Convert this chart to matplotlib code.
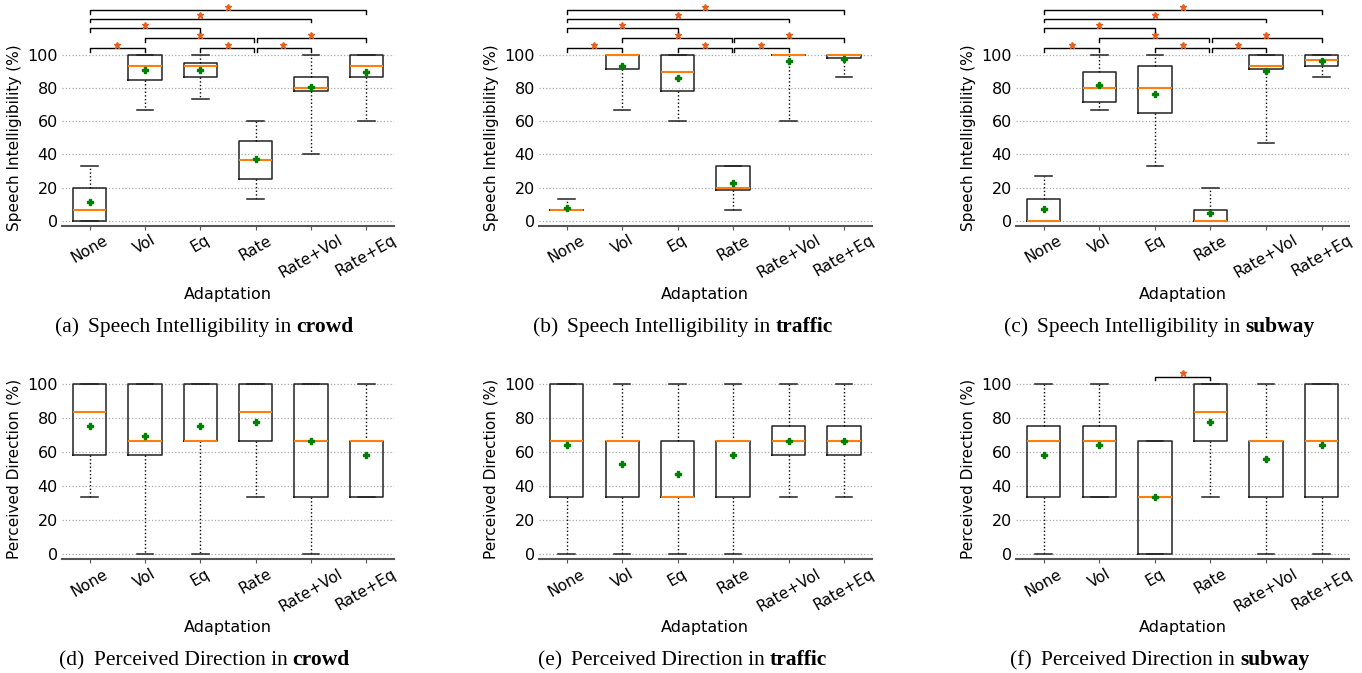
import matplotlib
matplotlib.use("Agg")
import matplotlib.pyplot as plt

# categories
adaptations = ['None', 'Vol', 'Eq', 'Rate', 'Rate+Vol', 'Rate+Eq']

# box stats per adaptation: whislo, q1, med, q3, whishi, mean  (values in %)
si_crowd = [[0, 0, 6.67, 20, 33.3, 11.1],
            [66.7, 85, 93.3, 100, 100, 91.1],
            [73.3, 86.7, 93.3, 95, 100, 91.1],
            [13.3, 25, 36.7, 48.3, 60, 37.4],
            [40, 78.3, 80, 86.7, 100, 80.6],
            [60, 86.7, 93.3, 100, 100, 90.0]]
si_traffic = [[6.67, 6.67, 6.67, 6.67, 13.3, 7.8],
              [66.7, 91.7, 100, 100, 100, 93.3],
              [60, 78.3, 90, 100, 100, 86.1],
              [6.67, 18.3, 20, 33.3, 33.3, 22.8],
              [60, 100, 100, 100, 100, 96.1],
              [86.7, 98.3, 100, 100, 100, 97.8]]
si_subway = [[0, 0, 0, 13.3, 26.7, 7.2],
             [66.7, 71.7, 80, 90, 100, 81.7],
             [33.3, 65, 80, 93.3, 100, 76.7],
             [0, 0, 0, 6.67, 20, 4.4],
             [46.7, 91.7, 93.3, 100, 100, 90.6],
             [86.7, 93.3, 96.7, 100, 100, 96.1]]
pd_crowd = [[33.3, 58.3, 83.3, 100, 100, 75],
            [0, 58.3, 66.7, 100, 100, 69.4],
            [0, 66.7, 66.7, 100, 100, 75],
            [33.3, 66.7, 83.3, 100, 100, 77.8],
            [0, 33.3, 66.7, 100, 100, 66.7],
            [33.3, 33.3, 66.7, 66.7, 100, 58.3]]
pd_traffic = [[0, 33.3, 66.7, 100, 100, 63.9],
              [0, 33.3, 66.7, 66.7, 100, 52.8],
              [0, 33.3, 33.3, 66.7, 100, 47.2],
              [0, 33.3, 66.7, 66.7, 100, 58.3],
              [33.3, 58.3, 66.7, 75, 100, 66.7],
              [33.3, 58.3, 66.7, 75, 100, 66.7]]
pd_subway = [[0, 33.3, 66.7, 75, 100, 58.3],
             [33.3, 33.3, 66.7, 75, 100, 63.9],
             [0, 0, 33.3, 66.7, 66.7, 33.3],
             [33.3, 66.7, 83.3, 100, 100, 77.8],
             [0, 33.3, 66.7, 66.7, 100, 55.6],
             [0, 33.3, 66.7, 100, 100, 63.9]]

# significant pairs (index a, index b, stacking level)
sig_si = [(0, 1, 0), (2, 3, 0), (3, 4, 0), (1, 3, 1), (3, 5, 1),
          (0, 2, 2), (0, 4, 3), (0, 5, 4)]
sig_pd_subway = [(2, 3, 0)]
sig_levels = [104, 110, 116, 122, 127]

panels = [
    (si_crowd, sig_si, 'Speech Intelligibility (%)', '(a)', 'Speech Intelligibility in ', 'crowd'),
    (si_traffic, sig_si, 'Speech Intelligibility (%)', '(b)', 'Speech Intelligibility in ', 'traffic'),
    (si_subway, sig_si, 'Speech Intelligibility (%)', '(c)', 'Speech Intelligibility in ', 'subway'),
    (pd_crowd, [], 'Perceived Direction (%)', '(d)', 'Perceived Direction in ', 'crowd'),
    (pd_traffic, [], 'Perceived Direction (%)', '(e)', 'Perceived Direction in ', 'traffic'),
    (pd_subway, sig_pd_subway, 'Perceived Direction (%)', '(f)', 'Perceived Direction in ', 'subway'),
]

W, H = 1362, 673
fig = plt.figure(figsize=(W / 100, H / 100), dpi=100)

# axes rectangles in pixels: left, right, top, bottom
ax_px = [(62, 394, 50, 225.7), (539, 871.7, 50, 225.7), (1016, 1349.3, 50, 225.7),
         (62, 394, 378.6, 559.4), (539, 871.7, 378.6, 559.4), (1016, 1349.3, 378.6, 559.4)]
cap_px = [(55, 332), (532.7, 332), (1004, 332),
          (59.3, 665), (537.7, 665), (1010.3, 665)]

star_color = '#e8601c'
captions = []

for k, (rows, sigs, ylab, tag, cap, bold) in enumerate(panels):
    l, r, t, b = ax_px[k]
    ax = fig.add_axes([l / W, 1 - b / H, (r - l) / W, (b - t) / H])

    stats = []
    for name, row in zip(adaptations, rows):
        stats.append(dict(label=name, whislo=row[0], q1=row[1], med=row[2],
                          q3=row[3], whishi=row[4], mean=row[5], fliers=[]))
    ax.bxp(stats, widths=0.6, showmeans=True, showfliers=False,
           boxprops=dict(color='#222222', lw=1.1),
           whiskerprops=dict(color='k', lw=1, linestyle=':'),
           capprops=dict(color='#222222', lw=1.1),
           medianprops=dict(color='#ff7f0e', lw=1.5),
           meanprops=dict(marker='P', markerfacecolor='green', markeredgecolor='green',
                          markersize=5))

    ax.set_xlim(0.5, 6.5)
    ax.set_ylim(-3, 103)
    ax.set_yticks([0, 20, 40, 60, 80, 100])
    ax.yaxis.grid(True, linestyle=':', color='#aaaaaa', lw=0.9)
    ax.set_axisbelow(True)
    for s in ['top', 'right', 'left']:
        ax.spines[s].set_visible(False)
    ax.spines['bottom'].set_color('#555555')
    ax.spines['bottom'].set_linewidth(1.5)
    ax.tick_params(axis='y', length=0, labelsize=11.5, pad=3)
    ax.tick_params(axis='x', length=3, color='#555555', labelsize=11, pad=2)
    plt.setp(ax.get_xticklabels(), rotation=30, ha='center')
    ax.set_ylabel(ylab, fontsize=11, labelpad=4)
    ax.set_xlabel('Adaptation', fontsize=11.5, labelpad=4)

    # significance brackets, brackets meeting at one box are pulled apart a bit
    for (i, j, lev) in sigs:
        x1, x2 = i + 1.0, j + 1.0
        for (i2, j2, lev2) in sigs:
            if lev2 == lev and j2 == i:
                x1 += 0.025
            if lev2 == lev and i2 == j:
                x2 -= 0.025
        y = sig_levels[lev]
        ax.plot([x1, x1, x2, x2], [y - 2, y, y, y - 2], color='k', lw=1, clip_on=False)
        ax.plot((i + j + 2) / 2, y + 2.2, marker='*', color=star_color, markersize=5,
                clip_on=False)

    cx, cy = cap_px[k]
    t0 = fig.text(cx / W, 1 - cy / H, tag, fontsize=15.5, family='Liberation Serif',
                  va='baseline', ha='left')
    t1 = fig.text(cx / W, 1 - cy / H, cap, fontsize=15.5, family='Liberation Serif',
                  va='baseline', ha='left')
    t2 = fig.text(cx / W, 1 - cy / H, bold, fontsize=15.5, family='Liberation Serif',
                  weight='bold', va='baseline', ha='left')
    captions.append((cx, cy, t0, t1, t2))

# place caption pieces one after another
renderer = fig.canvas.get_renderer()
for cx, cy, t0, t1, t2 in captions:
    x = cx + t0.get_window_extent(renderer).width + 9
    t1.set_x(x / W)
    x += t1.get_window_extent(renderer).width
    t2.set_x(x / W)

fig.savefig('out.png', dpi=100)
